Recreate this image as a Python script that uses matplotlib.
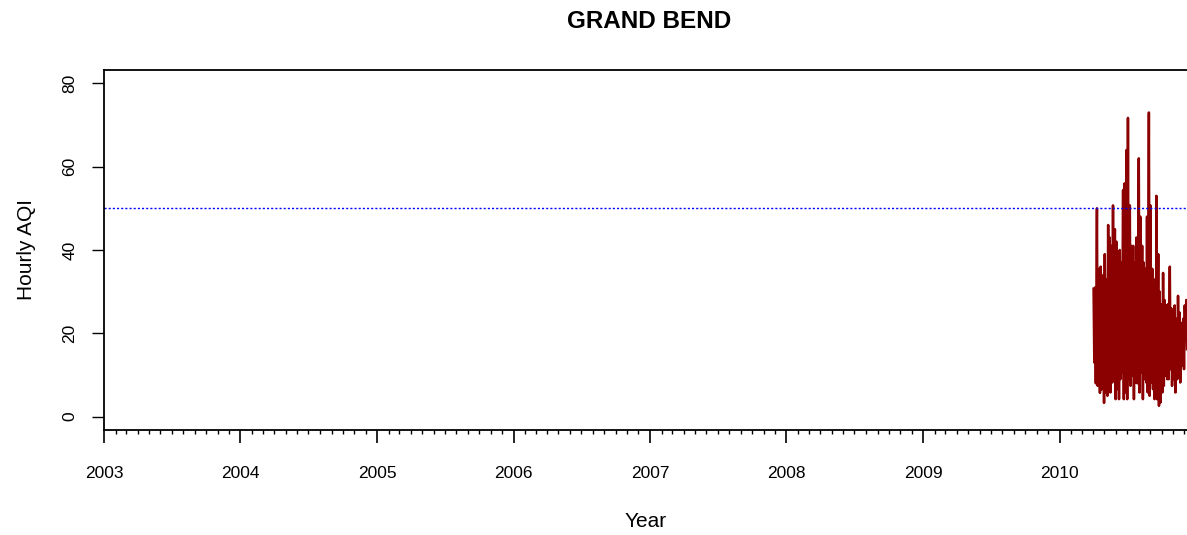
import pandas as pd
import matplotlib.pyplot as plt
import matplotlib.dates as mdates

plt.rcParams['font.family'] = ['Liberation Sans', 'DejaVu Sans']

# Lecturas aproximadas de la serie horaria (máximos y mínimos por tramo de ~4 días)
dias = ["2010-04-02", "2010-04-06", "2010-04-11", "2010-04-17", "2010-04-21",
        "2010-04-28", "2010-05-02", "2010-05-07", "2010-05-11", "2010-05-15",
        "2010-05-20", "2010-05-24", "2010-05-29", "2010-06-02", "2010-06-07",
        "2010-06-11", "2010-06-15", "2010-06-20", "2010-06-24", "2010-06-29",
        "2010-07-03", "2010-07-08", "2010-07-12", "2010-07-17", "2010-07-21",
        "2010-07-26", "2010-08-01", "2010-08-05", "2010-08-10", "2010-08-14",
        "2010-08-19", "2010-08-23", "2010-08-28", "2010-09-01", "2010-09-06",
        "2010-09-10", "2010-09-14", "2010-09-17", "2010-09-22", "2010-09-26",
        "2010-10-01", "2010-10-05", "2010-10-09", "2010-10-14", "2010-10-18",
        "2010-10-23", "2010-10-27", "2010-11-01", "2010-11-05", "2010-11-10",
        "2010-11-14", "2010-11-18", "2010-11-23", "2010-11-28", "2010-12-02",
        "2010-12-06"]
aqi_max = [30.7, 31, 50, 35.5, 36, 34, 39, 33, 46, 43,
           41, 50.7, 45, 42, 39, 40, 37, 54.4, 56, 64,
           71.7, 50.7, 41, 41, 37, 43, 62, 48, 41, 37,
           35.5, 48, 73, 50.7, 35.5, 29, 33, 53, 39, 30,
           27, 34.5, 28, 26.7, 27, 36, 26, 23.5, 26.7, 23.5,
           29, 25, 22.5, 23.5, 26.7, 28]
aqi_min = [13, 8, 7.4, 5.7, 6.5, 3.3, 5.8, 5, 10.6, 5.8,
           8.2, 9, 4.2, 6.6, 4.2, 9, 10.6, 4.2, 5.8, 4.2,
           9, 7.4, 9.8, 4.2, 8.2, 8, 5.8, 10.6, 4.2, 9,
           8.2, 5.8, 5, 8.2, 6.6, 4.2, 5, 4.2, 2.6, 3.4,
           5.8, 7.4, 9.8, 9, 9, 11.4, 7.4, 9, 5.8, 9,
           10.6, 8.2, 12.2, 11.4, 18.6, 16.2]

umbral = 50

fechas = pd.to_datetime(dias)
x, y = [], []
for f, hi, lo in zip(fechas, aqi_max, aqi_min):
    x += [f, f + pd.Timedelta(hours=48)]
    y += [hi, lo]

fig = plt.figure(figsize=(11.87, 5.35), dpi=100)
ax = fig.add_axes([104 / 1187, 105 / 535, 1 - 104 / 1187, 360 / 535])

ax.plot(x, y, color="darkred", lw=1.8)
ax.axhline(umbral, color="blue", ls=(0, (1.5, 1.5)), lw=1)

ax.set_xlim(pd.Timestamp("2003-01-01"), pd.Timestamp("2010-12-08"))
ax.set_ylim(-3.2, 83.2)

ax.xaxis.set_major_locator(mdates.YearLocator())
ax.xaxis.set_major_formatter(mdates.DateFormatter("%Y"))
ax.xaxis.set_minor_locator(mdates.MonthLocator())
ax.set_yticks([0, 20, 40, 60, 80])

ax.tick_params(axis="x", which="major", length=9, width=1.2, pad=17, labelsize=12.5)
ax.tick_params(axis="x", which="minor", length=3, width=1)
ax.tick_params(axis="y", length=9, width=1, pad=10, labelsize=12.5)
for lab in ax.get_yticklabels():
    lab.set_rotation(90)
    lab.set_va("center")

ax.spines["right"].set_visible(False)
for s in ["left", "top", "bottom"]:
    ax.spines[s].set_linewidth(1.3)

ax.set_xlabel("Year", fontsize=15, labelpad=22)
ax.set_ylabel("Hourly AQI", fontsize=15, labelpad=19)
fig.text(649 / 1187, 1 - 21 / 535, "GRAND BEND", ha="center", va="center",
         fontsize=17.5, fontweight="bold")

fig.savefig("out.png", dpi=100)
